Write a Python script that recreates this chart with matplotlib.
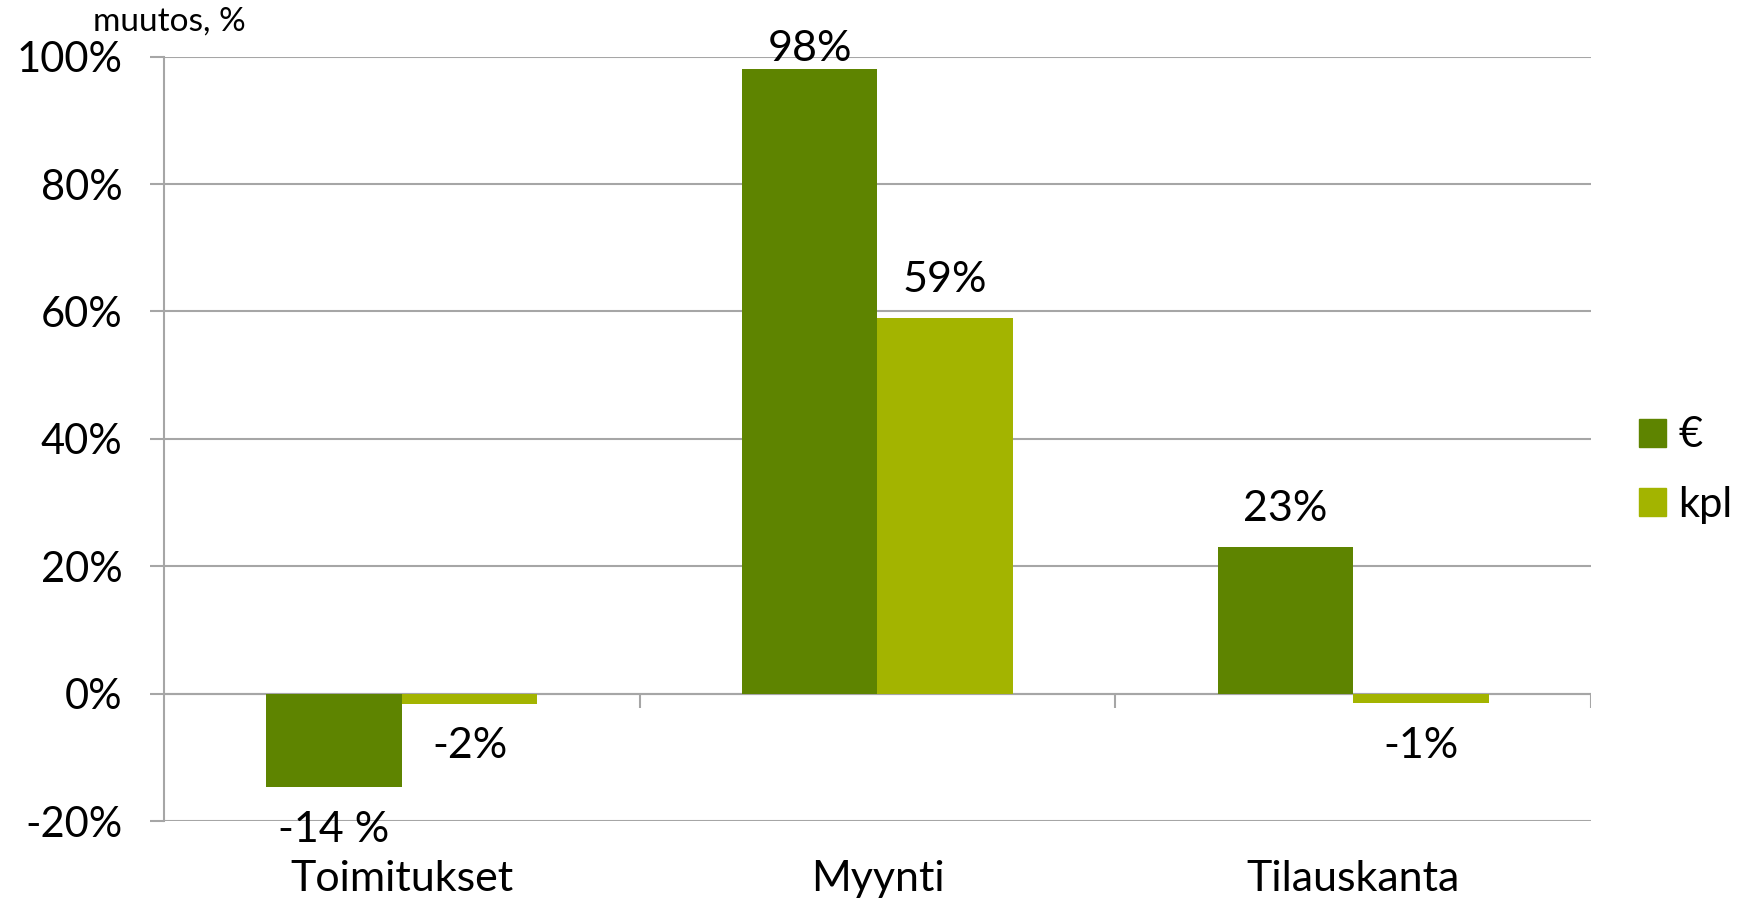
import matplotlib
matplotlib.use("Agg")
import matplotlib.pyplot as plt
from matplotlib.patches import Patch

categories = ["Toimitukset", "Myynti", "Tilauskanta"]
series_names = ["€", "kpl"]
eur_vals = [-14.7, 98.1, 23.0]
kpl_vals = [-1.6, 59.0, -1.5]
eur_labels = ["-14 %", "98%", "23%"]
kpl_labels = ["-2%", "59%", "-1%"]
yticks = [-20, 0, 20, 40, 60, 80, 100]
ytick_labels = ["-20%", "0%", "20%", "40%", "60%", "80%", "100%"]

dark = "#5E8400"
light = "#A3B400"
grid = "#A6A6A6"

plt.rcParams["font.family"] = ["Lato", "DejaVu Sans"]

fig = plt.figure(figsize=(17.42, 9.07), dpi=100)
ax = fig.add_axes([0.0941, 0.0948, 0.9133 - 0.0941, 0.9375 - 0.0948])

w = 0.285
centers = [i + 0.5 for i in range(len(categories))]
ax.bar([c - w / 2 for c in centers], eur_vals, width=w, color=dark, zorder=2)
ax.bar([c + w / 2 for c in centers], kpl_vals, width=w, color=light, zorder=2)

# data labels, Excel style (clamped at the top of the plot)
for vals, labels, off in ((eur_vals, eur_labels, -w / 2), (kpl_vals, kpl_labels, w / 2)):
    for c, v, t in zip(centers, vals, labels):
        y = v + 6.0 if v > 0 else v - 6.7
        y = min(y, 101.2)
        ax.text(c + off, y, t, ha="center", va="center", fontsize=31, zorder=3)

ax.set_xlim(0, 3)
ax.set_ylim(-20, 100)
ax.set_yticks(yticks)
ax.set_yticklabels(ytick_labels)
ax.set_xticks(centers)
ax.set_xticklabels(categories)
ax.tick_params(axis="y", length=10, width=1.5, color=grid, pad=20, labelsize=30)
ax.tick_params(axis="x", length=0, pad=28, labelsize=31)
ax.grid(axis="y", color=grid, lw=1.5, zorder=0)
ax.set_axisbelow(True)

for s in ("top", "right"):
    ax.spines[s].set_visible(False)
ax.spines["left"].set_color(grid)
ax.spines["left"].set_linewidth(1.5)
ax.spines["bottom"].set_visible(False)

# category axis sits at 0 with tick marks at the category boundaries
ax.axhline(0, color=grid, lw=1.5, zorder=1)
ax.vlines([1, 2, 3], -2.3, 0, color=grid, lw=1.5, zorder=1)

fig.text(93 / 1742, 1 - 22 / 907, "muutos, %", fontsize=24, ha="left", va="center")

handles = [Patch(color=dark, label=series_names[0]), Patch(color=light, label=series_names[1])]
fig.legend(handles=handles, loc="center left", bbox_to_anchor=(1639 / 1742, 1 - 470 / 907),
           frameon=False, fontsize=30, handlelength=0.65, handleheight=0.65,
           handletextpad=0.3, labelspacing=0.75, borderpad=0, borderaxespad=0)

fig.savefig("out.png", dpi=100)
